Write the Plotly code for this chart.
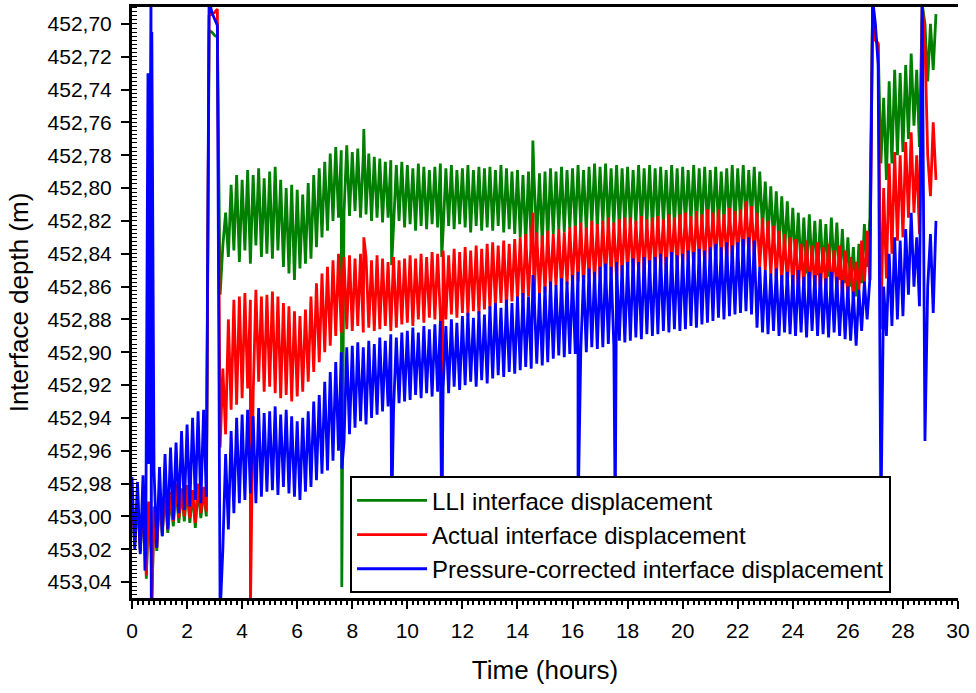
import plotly.graph_objects as go

# ---------------- data ----------------
# Readings are taken every 0.1 h starting at t = 0 h (peak / trough alternation of the noisy record)
T_START_H = 0.0
T_STEP_H = 0.1

LLI_DEPTH = [
    452.992, 453.018, 452.990, 453.022, 452.995, 453.020, 452.993, 453.024, 452.996, 453.021,
    452.986, 453.012, 452.984, 453.010, 452.988, 453.006, 452.982, 453.004, 452.985, 453.003,
    452.983, 453.004, 452.986, 453.007, 452.982, 453.001, 452.984, 453.000,
    452.704, 452.705, 452.707, 452.708,
    452.865, 452.835, 452.815, 452.842, 452.798, 452.838, 452.792, 452.845,
    452.795, 452.838, 452.789, 452.846, 452.792, 452.835, 452.788, 452.842, 452.794, 452.840,
    452.790, 452.843, 452.787, 452.838, 452.795, 452.848, 452.800, 452.852, 452.798, 452.856,
    452.801, 452.849, 452.804, 452.846, 452.797, 452.843, 452.792, 452.836, 452.788, 452.830,
    452.784, 452.826, 452.779, 452.820, 452.775, 452.818, 452.777, 452.815, 452.774, 452.817,
    452.778, 452.814, 452.776, 452.818, 452.780, 452.816, 452.779, 452.820, 452.781, 452.818,
    452.782, 452.821, 452.784, 452.818, 452.783, 452.823, 452.786, 452.820, 452.784, 452.824,
    452.786, 452.822, 452.788, 452.826, 452.785, 452.823, 452.787, 452.825, 452.789, 452.822,
    452.787, 452.824, 452.785, 452.826, 452.788, 452.823, 452.786, 452.825, 452.789, 452.822,
    452.788, 452.824, 452.786, 452.827, 452.789, 452.823, 452.787, 452.826, 452.788, 452.824,
    452.787, 452.826, 452.789, 452.823, 452.786, 452.827, 452.788, 452.825, 452.790, 452.828,
    452.789, 452.830, 452.792, 452.834, 452.790, 452.836, 452.793, 452.832, 452.791, 452.834,
    452.790, 452.833, 452.788, 452.828, 452.790, 452.826, 452.787, 452.827, 452.789, 452.825,
    452.788, 452.826, 452.786, 452.824, 452.789, 452.827, 452.787, 452.823, 452.785, 452.825,
    452.787, 452.822, 452.785, 452.825, 452.788, 452.823, 452.786, 452.826, 452.788, 452.823,
    452.787, 452.824, 452.789, 452.822, 452.786, 452.825, 452.788, 452.823, 452.786, 452.826,
    452.788, 452.824, 452.787, 452.822, 452.789, 452.825, 452.786, 452.823, 452.788, 452.826,
    452.787, 452.823, 452.789, 452.821, 452.786, 452.824, 452.788, 452.822, 452.787, 452.825,
    452.789, 452.822, 452.787, 452.824, 452.790, 452.821, 452.788, 452.823, 452.786, 452.822,
    452.788, 452.820, 452.786, 452.822, 452.789, 452.819, 452.787, 452.823, 452.790, 452.826,
    452.796, 452.830, 452.799, 452.834, 452.802, 452.836, 452.805, 452.840, 452.808, 452.843,
    452.812, 452.846, 452.815, 452.850, 452.818, 452.852, 452.816, 452.849, 452.820, 452.853,
    452.819, 452.851, 452.822, 452.854, 452.818, 452.850, 452.821, 452.856, 452.825, 452.858,
    452.830, 452.860, 452.836, 452.866, 452.834, 452.858, 452.822, 452.848, 452.818,
    452.688, 452.708, 452.713, 452.785,
    452.745, 452.795, 452.735, 452.785, 452.728, 452.780, 452.730,
    452.778, 452.725, 452.770, 452.718, 452.762, 452.728, 452.775,
    452.688, 452.700, 452.735, 452.700, 452.728, 452.694,
]

ACTUAL_DEPTH = [
    452.990, 453.016, 452.988, 453.020, 452.992, 453.018, 452.991, 453.021, 452.994, 453.019,
    452.984, 453.010, 452.982, 453.008, 452.985, 453.003, 452.980, 453.001, 452.983, 453.000,
    452.981, 453.001, 452.984, 453.004, 452.980, 452.998, 452.982, 452.997,
    452.695, 452.694, 452.693, 452.691,
    452.958, 452.910, 452.950, 452.880, 452.935, 452.868, 452.932, 452.866,
    452.928, 452.864, 452.922, 452.868, 452.926, 452.862, 452.918, 452.866, 452.924, 452.865,
    452.921, 452.863, 452.925, 452.866, 452.928, 452.870, 452.926, 452.872, 452.930, 452.875,
    452.927, 452.878, 452.924, 452.874, 452.918, 452.866, 452.912, 452.858, 452.906, 452.852,
    452.900, 452.848, 452.896, 452.844, 452.890, 452.840, 452.888, 452.842, 452.886, 452.841,
    452.887, 452.843, 452.884, 452.840, 452.888, 452.842, 452.885, 452.844, 452.887, 452.841,
    452.886, 452.843, 452.884, 452.845, 452.887, 452.842, 452.885, 452.844, 452.883, 452.843,
    452.882, 452.841, 452.884, 452.843, 452.880, 452.840, 452.882, 452.842, 452.879, 452.839,
    452.880, 452.840, 452.878, 452.838, 452.880, 452.841, 452.877, 452.837, 452.879, 452.839,
    452.876, 452.836, 452.878, 452.838, 452.875, 452.835, 452.877, 452.837, 452.874, 452.834,
    452.874, 452.833, 452.872, 452.835, 452.870, 452.832, 452.873, 452.834, 452.869, 452.831,
    452.868, 452.830, 452.870, 452.828, 452.866, 452.831, 452.868, 452.827, 452.865, 452.829,
    452.864, 452.826, 452.862, 452.828, 452.860, 452.825, 452.863, 452.827, 452.859, 452.824,
    452.859, 452.823, 452.857, 452.821, 452.860, 452.824, 452.856, 452.820, 452.858, 452.822,
    452.855, 452.820, 452.857, 452.818, 452.854, 452.821, 452.856, 452.819, 452.853, 452.818,
    452.852, 452.818, 452.854, 452.820, 452.851, 452.817, 452.853, 452.819, 452.850, 452.818,
    452.850, 452.817, 452.848, 452.819, 452.851, 452.816, 452.847, 452.818, 452.849, 452.816,
    452.847, 452.815, 452.845, 452.817, 452.848, 452.814, 452.844, 452.816, 452.846, 452.813,
    452.843, 452.815, 452.845, 452.813, 452.842, 452.816, 452.844, 452.812, 452.843, 452.814,
    452.841, 452.813, 452.843, 452.808, 452.840, 452.811, 452.842, 452.815, 452.848, 452.818,
    452.850, 452.820, 452.853, 452.823, 452.855, 452.826, 452.857, 452.828, 452.859, 452.830,
    452.861, 452.831, 452.863, 452.834, 452.860, 452.832, 452.864, 452.835, 452.862, 452.833,
    452.863, 452.836, 452.861, 452.834, 452.864, 452.838, 452.862, 452.835, 452.865, 452.838,
    452.866, 452.842, 452.869, 452.845, 452.862, 452.832, 452.858, 452.826, 452.856,
    452.688, 452.710, 452.712, 452.886,
    452.800, 452.855, 452.785, 452.840, 452.778, 452.832, 452.780,
    452.830, 452.772, 452.818, 452.766, 452.815, 452.780, 452.828,
    452.688, 452.712, 452.780, 452.805, 452.760, 452.795,
]

PRESSURE_CORR_DEPTH = [
    452.976, 453.020, 452.979, 453.023, 452.975, 453.018, 452.968, 453.015, 452.972, 453.019,
    452.970, 453.012, 452.962, 453.008, 452.958, 453.002, 452.955, 452.998, 452.948, 452.996,
    452.944, 452.994, 452.940, 452.990, 452.936, 452.992, 452.935, 452.988,
    452.685, 452.693, 452.697, 452.701,
    453.060, 453.020, 452.962, 453.008, 452.948, 452.998, 452.940, 452.992,
    452.938, 452.990, 452.935, 452.986, 452.939, 452.992, 452.934, 452.988, 452.937, 452.985,
    452.936, 452.984, 452.933, 452.987, 452.938, 452.982, 452.935, 452.986, 452.939, 452.988,
    452.942, 452.990, 452.940, 452.985, 452.936, 452.982, 452.930, 452.978, 452.926, 452.974,
    452.918, 452.972, 452.912, 452.966, 452.906, 452.960, 452.900, 452.955, 452.897, 452.950,
    452.896, 452.946, 452.894, 452.942, 452.897, 452.944, 452.893, 452.940, 452.895, 452.938,
    452.891, 452.936, 452.893, 452.933, 452.889, 452.935, 452.891, 452.931, 452.888, 452.930,
    452.887, 452.929, 452.885, 452.926, 452.888, 452.928, 452.884, 452.925, 452.886, 452.927,
    452.883, 452.924, 452.881, 452.922, 452.884, 452.925, 452.880, 452.921, 452.882, 452.923,
    452.878, 452.920, 452.876, 452.918, 452.879, 452.921, 452.875, 452.917, 452.877, 452.919,
    452.872, 452.916, 452.870, 452.914, 452.873, 452.915, 452.868, 452.912, 452.870, 452.913,
    452.866, 452.911, 452.864, 452.909, 452.866, 452.910, 452.862, 452.907, 452.864, 452.908,
    452.860, 452.906, 452.857, 452.904, 452.859, 452.902, 452.855, 452.903, 452.857, 452.901,
    452.853, 452.901, 452.851, 452.899, 452.853, 452.900, 452.849, 452.897, 452.851, 452.898,
    452.848, 452.897, 452.846, 452.895, 452.848, 452.896, 452.845, 452.893, 452.847, 452.894,
    452.845, 452.893, 452.843, 452.891, 452.845, 452.892, 452.842, 452.889, 452.844, 452.890,
    452.842, 452.889, 452.840, 452.887, 452.842, 452.888, 452.839, 452.886, 452.841, 452.887,
    452.840, 452.886, 452.838, 452.884, 452.839, 452.885, 452.837, 452.883, 452.838, 452.882,
    452.836, 452.881, 452.834, 452.879, 452.836, 452.880, 452.833, 452.878, 452.835, 452.877,
    452.833, 452.876, 452.831, 452.875, 452.830, 452.877, 452.832, 452.885, 452.848, 452.888,
    452.850, 452.889, 452.852, 452.887, 452.849, 452.890, 452.853, 452.888, 452.851, 452.889,
    452.853, 452.890, 452.850, 452.888, 452.854, 452.891, 452.851, 452.887, 452.853, 452.890,
    452.852, 452.889, 452.855, 452.891, 452.851, 452.888, 452.854, 452.890, 452.856, 452.892,
    452.860, 452.893, 452.863, 452.896, 452.862, 452.887, 452.857, 452.880, 452.855,
    452.685, 452.700, 452.725, 453.000,
    452.860, 452.890, 452.840, 452.884, 452.830, 452.880, 452.832,
    452.878, 452.825, 452.865, 452.815, 452.860, 452.830, 452.872,
    452.685, 452.954, 452.860, 452.828, 452.876, 452.820,
]

# isolated single-sample spikes (time in h, depth in m)
LLI_SPIKE_T = [0.52, 0.71, 7.62, 8.42, 9.43, 11.25, 14.56]
LLI_SPIKE_V = [453.038, 453.060, 453.043, 452.764, 452.847, 452.842, 452.771]
ACTUAL_SPIKE_T = [0.52, 0.71, 4.30, 8.42, 11.25, 14.56]
ACTUAL_SPIKE_V = [453.036, 453.060, 453.060, 452.830, 453.038, 452.815]
PRESSURE_SPIKE_T = [0.47, 0.58, 0.69, 0.70, 0.72, 7.62, 9.43, 11.25, 14.56, 16.20, 17.55]
PRESSURE_SPIKE_V = [453.033, 452.730, 452.680, 453.060, 452.705, 452.971, 453.000,
                    453.000, 452.853, 453.000, 453.000]

SERIES_NAMES = ["LLI interface displacement",
                "Actual interface displacement",
                "Pressure-corrected interface displacement"]
SERIES_COLORS = ["#008000", "#ff0000", "#0000ff"]

X_TICKS = list(range(0, 31, 2))
Y_TICKS = [452.70, 452.72, 452.74, 452.76, 452.78, 452.80, 452.82, 452.84, 452.86,
           452.88, 452.90, 452.92, 452.94, 452.96, 452.98, 453.00, 453.02, 453.04]

assert len(LLI_DEPTH) == len(ACTUAL_DEPTH) == len(PRESSURE_CORR_DEPTH), (
    len(LLI_DEPTH), len(ACTUAL_DEPTH), len(PRESSURE_CORR_DEPTH))


def build(values, spike_t, spike_v):
    times = [round(T_START_H + i * T_STEP_H, 4) for i in range(len(values))]
    pts = list(zip(times, values)) + list(zip(spike_t, spike_v))
    pts.sort(key=lambda p: p[0])
    return [p[0] for p in pts], [p[1] for p in pts]


series = [
    build(LLI_DEPTH, LLI_SPIKE_T, LLI_SPIKE_V),
    build(ACTUAL_DEPTH, ACTUAL_SPIKE_T, ACTUAL_SPIKE_V),
    build(PRESSURE_CORR_DEPTH, PRESSURE_SPIKE_T, PRESSURE_SPIKE_V),
]

FONT = "Liberation Sans, Arial, Helvetica, sans-serif"
Y_RANGE = [453.0497, 452.6897]

fig = go.Figure()
for (xs, ys), name, color in zip(series, SERIES_NAMES, SERIES_COLORS):
    fig.add_trace(go.Scatter(x=xs, y=ys, mode="lines", name=name,
                             line=dict(color=color, width=2.8, simplify=False)))

axis_common = dict(showline=True, linecolor="black", linewidth=3, showgrid=False,
                   zeroline=False, tickcolor="black")

fig.update_layout(
    width=976, height=693,
    margin=dict(l=132, r=18, t=4, b=95),
    paper_bgcolor="white", plot_bgcolor="white",
    separators=",.",
    font=dict(family=FONT, color="black", size=21),
    xaxis=dict(range=[0, 30], tickvals=X_TICKS, ticks="outside", ticklen=8, tickwidth=2,
               mirror=True, ticklabelstandoff=4,
               minor=dict(ticks="outside", ticklen=4, tickwidth=1.5, dtick=0.2, tick0=0,
                          tickcolor="black", showgrid=False),
               title=dict(text="Time (hours)", font=dict(size=26, family=FONT), standoff=20),
               tickfont=dict(size=21, family=FONT),
               **axis_common),
    yaxis=dict(range=Y_RANGE, tickvals=Y_TICKS, tickformat=".2f", ticks="outside",
               ticklen=8, tickwidth=2, ticklabelstandoff=5,
               minor=dict(ticks="inside", ticklen=5, tickwidth=1, dtick=0.0025, tick0=452.70,
                          tickcolor="black", showgrid=False),
               title=dict(text="Interface depth (m)", font=dict(size=26, family=FONT), standoff=12),
               tickfont=dict(size=21, family=FONT),
               **axis_common),
    yaxis2=dict(range=Y_RANGE, overlaying="y", side="right", anchor="x",
                tickvals=Y_TICKS, ticks="inside", ticklen=8, tickwidth=2,
                showticklabels=False,
                minor=dict(ticks="inside", ticklen=4, tickwidth=1, dtick=0.0025, tick0=452.70,
                           tickcolor="black", showgrid=False),
                **axis_common),
    legend=dict(x=0.264, y=0.206, xanchor="left", yanchor="top",
                bgcolor="white", bordercolor="black", borderwidth=2,
                font=dict(size=24, family=FONT), tracegroupgap=0, itemwidth=70,
                entrywidth=470, entrywidthmode="pixels"),
    showlegend=True,
)

fig.write_html("out.html",
               config={"displayModeBar": False},
               post_script="document.body.style.margin='0';document.body.style.overflow='hidden';")
